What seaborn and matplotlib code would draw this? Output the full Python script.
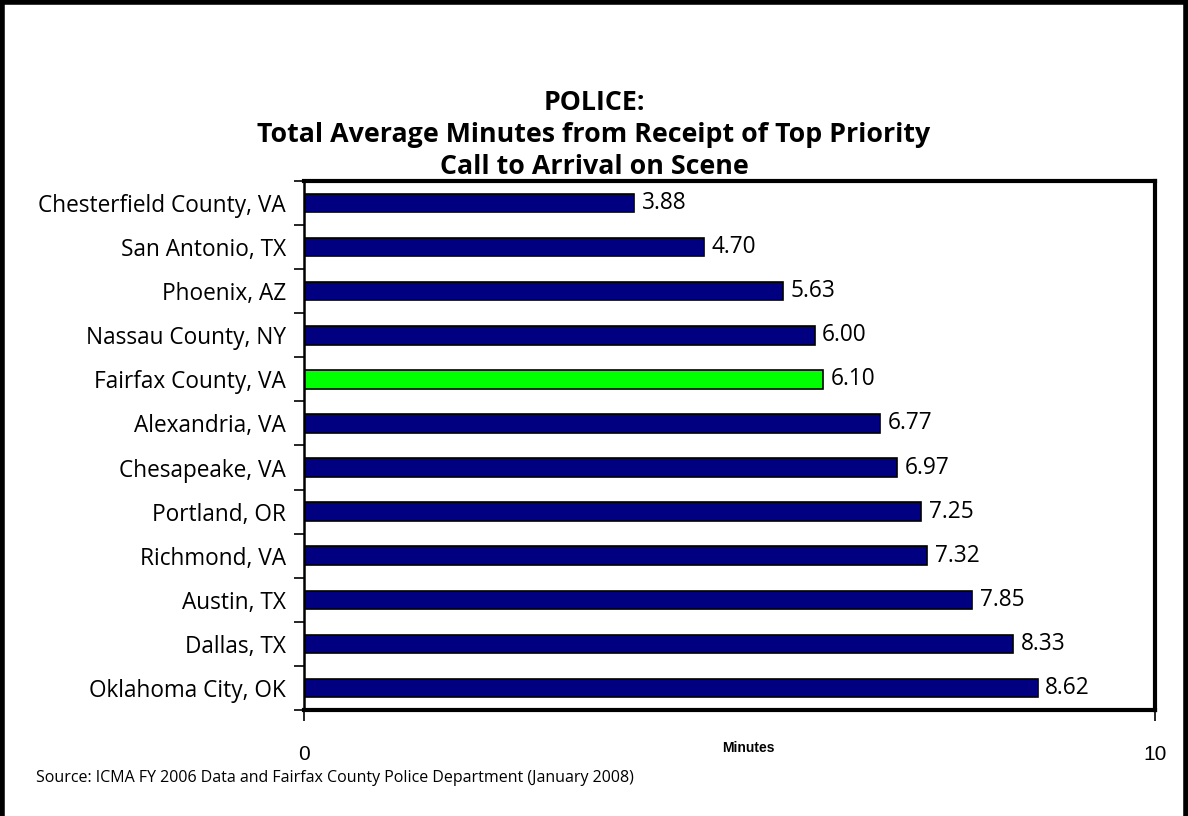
import matplotlib
matplotlib.use("Agg")
import matplotlib.pyplot as plt
import numpy as np
import pandas as pd
import seaborn as sns
from matplotlib.patches import Rectangle
from matplotlib.ticker import FixedLocator


CITIES = [
    "Chesterfield County, VA",
    "San Antonio, TX",
    "Phoenix, AZ",
    "Nassau County, NY",
    "Fairfax County, VA",
    "Alexandria, VA",
    "Chesapeake, VA",
    "Portland, OR",
    "Richmond, VA",
    "Austin, TX",
    "Dallas, TX",
    "Oklahoma City, OK",
]
MINUTES = [3.88, 4.70, 5.63, 6.00, 6.10, 6.77, 6.97, 7.25, 7.32, 7.85, 8.33, 8.62]
HIGHLIGHT = "Fairfax County, VA"

TITLE = "POLICE:\nTotal Average Minutes from Receipt of Top Priority\nCall to Arrival on Scene"
SOURCE = "Source: ICMA FY 2006 Data and Fairfax County Police Department (January 2008)"

LABEL_FONT = ["Open Sans", "DejaVu Sans"]
TICK_FONT = ["Liberation Sans", "DejaVu Sans"]


def main():
    sns.set_theme(style="white")
    plt.rcParams["font.family"] = LABEL_FONT
    plt.rcParams["text.color"] = "black"
    plt.rcParams["xtick.color"] = "black"
    plt.rcParams["ytick.color"] = "black"

    df = pd.DataFrame({"city": CITIES, "minutes": MINUTES})
    df["group"] = np.where(df["city"] == HIGHLIGHT, "highlight", "other")

    fig = plt.figure(figsize=(11.88, 8.16), dpi=100)
    ax = fig.add_axes([0.2559, 0.1299, 0.7163, 0.6483])

    sns.barplot(
        data=df,
        x="minutes",
        y="city",
        hue="group",
        palette={"other": "#000080", "highlight": "#00FF00"},
        saturation=1,
        orient="h",
        width=0.42,
        edgecolor="black",
        linewidth=1.2,
        legend=False,
        ax=ax,
    )

    for i, value in enumerate(MINUTES):
        ax.text(value + 0.09, i, f"{value:.2f}", va="center", ha="left",
                fontsize=16.3, color="black", family=LABEL_FONT)

    ax.set_xlim(0, 10)
    ax.set_ylim(len(CITIES) - 0.5, -0.5)
    ax.set_xticks([0, 10])
    ax.set_xticklabels(["0", "10"], family=TICK_FONT, fontsize=15)
    ax.tick_params(axis="x", which="major", bottom=True, direction="out",
                   length=8, width=1.2, pad=17, color="black")

    ax.yaxis.set_minor_locator(FixedLocator(np.arange(-0.5, len(CITIES), 1.0)))
    ax.tick_params(axis="y", which="major", left=True, length=0, pad=13, labelsize=16.3)
    ax.tick_params(axis="y", which="minor", left=True, direction="out",
                   length=7, width=1.2, color="black")
    for label in ax.get_yticklabels():
        label.set_family(LABEL_FONT)
        label.set_color("black")

    ax.set_ylabel("")
    ax.set_xlabel("Minutes", family=TICK_FONT, fontsize=10, fontweight="bold", color="black")
    ax.xaxis.set_label_coords(0.522, -0.072)
    ax.xaxis.label.set_verticalalignment("center")

    for side in ["top", "right", "bottom"]:
        ax.spines[side].set_visible(True)
        ax.spines[side].set_linewidth(3)
        ax.spines[side].set_color("black")
    ax.spines["left"].set_linewidth(1.8)
    ax.spines["left"].set_color("black")

    fig.text(0.5, 0.8346, TITLE, ha="center", va="center", fontsize=19.3,
             fontweight="bold", linespacing=1.3, family=LABEL_FONT, color="black")
    fig.text(0.030, 0.046, SOURCE, ha="left", va="center", fontsize=11.5,
             family=LABEL_FONT, color="black")

    fig.add_artist(Rectangle((0.002, -0.05), 0.996, 1.047, transform=fig.transFigure,
                             fill=False, edgecolor="black", linewidth=4))

    fig.savefig("out.png", dpi=100)
    plt.close(fig)


if __name__ == "__main__":
    main()
